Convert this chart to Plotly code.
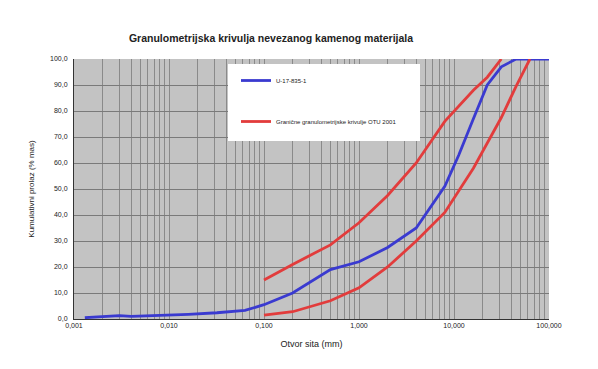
import plotly.graph_objects as go

# Sieve openings (mm) and cumulative passing (% mass)
sample_sizes = [0.0013, 0.002, 0.003, 0.004, 0.008, 0.016, 0.032, 0.063, 0.1, 0.2, 0.5, 1.0, 2.0, 4.0, 8.0, 11.2, 16.0, 22.4, 31.5, 45.0, 63.0, 100.0]
sample_pass = [0.5, 0.8, 1.3, 1.0, 1.3, 1.8, 2.4, 3.3, 5.5, 10.0, 19.0, 22.0, 27.5, 35.0, 51.0, 63.0, 77.0, 90.0, 97.0, 100.0, 100.0, 100.0]

upper_sizes = [0.1, 0.2, 0.5, 1.0, 2.0, 4.0, 8.0, 16.0, 22.4, 31.5]
upper_pass = [15.0, 21.0, 28.5, 37.0, 47.5, 60.0, 76.0, 88.0, 93.0, 100.0]

lower_sizes = [0.1, 0.2, 0.5, 1.0, 2.0, 4.0, 8.0, 16.0, 31.5, 45.0, 63.0]
lower_pass = [1.5, 2.8, 7.0, 12.0, 20.0, 30.0, 41.0, 58.0, 77.5, 89.5, 100.0]

# Axis ticks
x_major = [0.001, 0.01, 0.1, 1.0, 10.0, 100.0]
x_major_text = ["0,001", "0,010", "0,100", "1,000", "10,000", "100,000"]
y_ticks = [0, 10, 20, 30, 40, 50, 60, 70, 80, 90, 100]
y_tick_text = ["0,0", "10,0", "20,0", "30,0", "40,0", "50,0", "60,0", "70,0", "80,0", "90,0", "100,0"]

# every 1..9 step inside each decade gets a grid line; only decades are labelled
x_grid = []
x_grid_text = []
for d in x_major[:-1]:
    for k in range(1, 10):
        x_grid.append(d * k)
        x_grid_text.append(x_major_text[x_major.index(d)] if k == 1 else "")
x_grid.append(x_major[-1])
x_grid_text.append(x_major_text[-1])

BLUE = "#3a3ad0"
RED = "#e23c3c"
FONT = "Liberation Sans, Arial, sans-serif"

fig = go.Figure()
fig.add_trace(go.Scatter(
    x=sample_sizes, y=sample_pass, mode="lines", name="U-17-835-1",
    line=dict(color=BLUE, width=2.8), legendgroup="a"))
fig.add_trace(go.Scatter(
    x=upper_sizes, y=upper_pass, mode="lines",
    name="Granične granulometrijske krivulje OTU 2001",
    line=dict(color=RED, width=2.8), legendgroup="b"))
fig.add_trace(go.Scatter(
    x=lower_sizes, y=lower_pass, mode="lines", showlegend=False,
    line=dict(color=RED, width=2.8), legendgroup="b"))

# white legend panel
fig.add_shape(type="rect", xref="paper", yref="paper",
              x0=(228 - 74) / 475, x1=(420 - 74) / 475,
              y0=(319 - 141) / 260, y1=(319 - 64) / 260,
              fillcolor="white", line=dict(width=0), layer="above")

fig.update_layout(
    width=598, height=369,
    margin=dict(l=74, r=49, t=59, b=50),
    paper_bgcolor="white",
    plot_bgcolor="#c3c3c3",
    font=dict(family=FONT, size=7, color="#222"),
    title=dict(text="<b>Granulometrijska krivulja nevezanog kamenog materijala</b>",
               x=271 / 598, xanchor="center", y=1 - 38 / 369, yanchor="middle",
               font=dict(size=10.5, color="#222")),
    showlegend=True,
    legend=dict(x=(236 - 74) / 475, y=(319 - 66) / 260, xanchor="left", yanchor="top",
                bgcolor="rgba(0,0,0,0)", font=dict(size=6, color="#222"),
                tracegroupgap=22, itemwidth=30),
)
fig.update_xaxes(
    type="log", range=[-3, 2],
    tickmode="array", tickvals=x_grid, ticktext=x_grid_text,
    showgrid=True, gridcolor="#8a8a8a", gridwidth=1,
    showline=True, linecolor="#333", linewidth=1, mirror=False,
    ticks="", tickfont=dict(size=7),
    title=dict(text="Otvor sita (mm)", font=dict(size=9), standoff=12),
    zeroline=False,
)
fig.update_yaxes(
    range=[0, 100],
    tickmode="array", tickvals=y_ticks, ticktext=y_tick_text,
    showgrid=True, gridcolor="#7a7a7a", gridwidth=1,
    showline=True, linecolor="#333", linewidth=1,
    ticks="", tickfont=dict(size=7), ticklabelstandoff=4,
    title=dict(text="Kumulativni prolaz (% mas)", font=dict(size=8), standoff=14),
    zeroline=False,
)

fig.write_html("out.html")
